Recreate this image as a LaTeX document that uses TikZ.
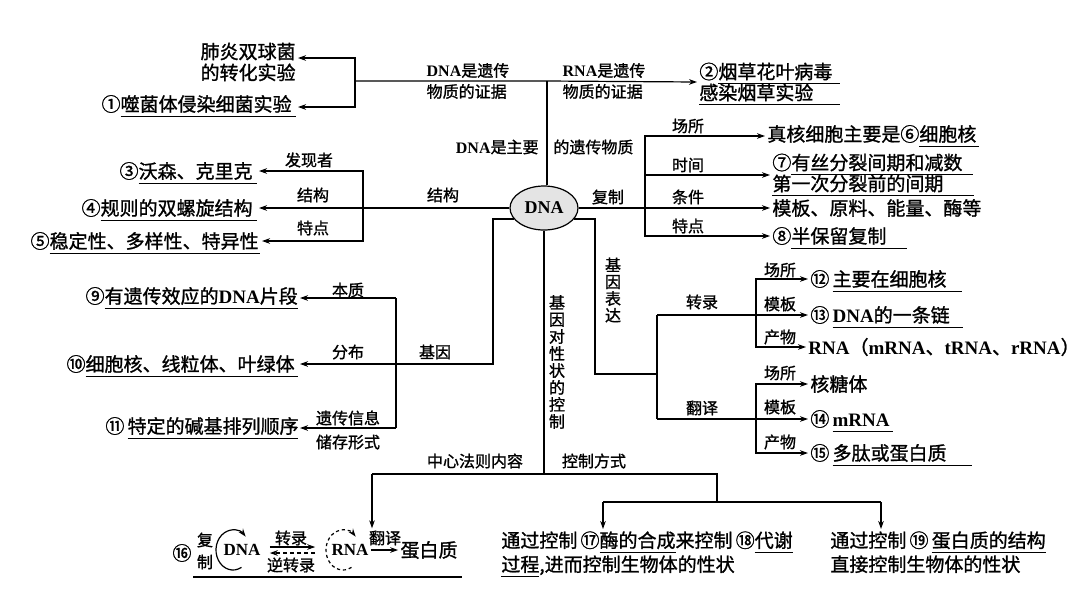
\documentclass[tikz,border=0pt]{standalone}
\usepackage{fontspec}
\usepackage{tikz}
\usetikzlibrary{shapes.geometric, arrows.meta, positioning, calc}
\setmainfont{Noto Sans CJK SC}[RawFeature={embolden=1.2}]
\newfontfamily\latfont{Liberation Serif}
\definecolor{nodegray}{RGB}{228,228,228}
\newcommand\en[1]{{\latfont\bfseries #1}}
\newcommand\mainsz{\fontsize{9.5pt}{10.5pt}\selectfont}
\newcommand\labsz{\fontsize{8pt}{10.5pt}\selectfont}
\newlength\underlw
\newcommand\fillin[2]{\rlap{\smash{\rule[-2.8pt]{#1}{0.6pt}}}\makebox[#1][l]{#2}}
\newcommand\underl[1]{\settowidth\underlw{#1}\fillin{\underlw}{#1}}

\begin{document}
\begin{tikzpicture}[
  x=0.5pt, y=-0.5pt,
  concept/.style={font=\mainsz, inner sep=1pt},
  tag/.style={font=\labsz, inner sep=1pt},
  link/.style={line width=0.6pt},
  arrow/.style={-{Stealth[length=4pt, width=2.8pt]}, line width=0.6pt}
]
  \useasboundingbox (0,0) rectangle (1080,596);

  \node[ellipse, draw, line width=0.6pt, fill=nodegray, minimum width=34pt, minimum height=22pt,
        inner sep=0pt, font=\fontsize{9}{10}\selectfont] (dna) at (544,208) {\en{DNA}};

  % evidence
  \coordinate (evL) at (355,81);
  \coordinate (evT) at (547,81);
  \node[concept, anchor=east, align=right] (griffith) at (298,62) {肺炎双球菌\\的转化实验};
  \node[concept, anchor=east] (phage) at (298,104) {①\fillin{87.5pt}{噬菌体侵染细菌实验}};
  \node[concept, anchor=west, align=left] (tmv) at (697,82) {②\fillin{61pt}{烟草花叶病毒}\\\fillin{70.5pt}{感染烟草实验}};
  \node[tag, align=left] (evDNA) at (468,81) {\en{DNA}是遗传\\物质的证据};
  \node[tag, align=left] (evRNA) at (604,81) {\en{RNA}是遗传\\物质的证据};
  \node[tag, anchor=east] (mainA) at (541,147) {\en{DNA}是主要};
  \node[tag, anchor=west] (mainB) at (551,147) {的遗传物质};

  \draw[link] (evT |- dna.north) -- (evT);
  \draw[arrow] (evL) -- (evT) -- (tmv.west);
  \draw[arrow] (evL) |- ([yshift=2pt]griffith.east);
  \draw[arrow] (evL) |- ([yshift=-1.5pt]phage.east);

  % structure
  \coordinate (stJ) at (363,208);
  \node[concept, anchor=east] (watson) at (259,171) {③\fillin{59pt}{沃森、克里克}};
  \node[concept, anchor=east] (helix) at (259,208) {④\fillin{78pt}{规则的双螺旋结构}};
  \node[concept, anchor=east] (stable) at (262,241) {⑤\fillin{105pt}{稳定性、多样性、特异性}};
  \node[tag] (stLab) at (443,195) {结构};
  \node[tag] (who) at (309,160) {发现者};
  \node[tag] (form) at (313,195) {结构};
  \node[tag] (feat) at (313,228) {特点};

  \draw[arrow] (dna.west) -- (helix.east);
  \draw[arrow] (stJ) |- (watson.east);
  \draw[arrow] (stJ) |- (stable.east);

  % replication
  \coordinate (rpJ) at (645,208);
  \node[concept, anchor=west] (site) at (765,134) {真核细胞主要是⑥\fillin{30pt}{细胞核}};
  \node[concept, anchor=west, align=left] (time) at (770,173) {⑦\fillin{91pt}{有丝分裂间期和减数}\\\fillin{101pt}{第一次分裂前的间期}};
  \node[concept, anchor=west] (cond) at (770,208) {模板、原料、能量、酶等};
  \node[concept, anchor=west] (mode) at (770,236) {⑧\fillin{58pt}{半保留复制}};
  \node[tag] (rpLab) at (608,197) {复制};
  \node[tag] (rpSite) at (688,126) {场所};
  \node[tag] (rpTime) at (688,165) {时间};
  \node[tag] (rpCond) at (688,197) {条件};
  \node[tag] (rpFeat) at (688,226) {特点};

  \draw[arrow] (dna.east) -- (cond.west);
  \draw[arrow] (rpJ) |- ([yshift=-1pt]site.west);
  \draw[arrow] (rpJ) |- ([yshift=-1pt]time.west);
  \draw[arrow] (rpJ) |- (mode.west);

  % gene
  \coordinate (gnC) at (493,364);
  \coordinate (gnT) at (396,298);
  \coordinate (gnB) at (396,428);
  \node[concept, anchor=east] (essence) at (300,296) {⑨\fillin{96.5pt}{有遗传效应的\en{DNA}片段}};
  \node[concept, anchor=east] (where) at (300,364) {⑩\fillin{106pt}{细胞核、线粒体、叶绿体}};
  \node[concept, anchor=east] (store) at (300,426) {⑪\,\fillin{85pt}{特定的碱基排列顺序}};
  \node[tag] (gnEss) at (348,290) {本质};
  \node[tag] (gnDist) at (348,352) {分布};
  \node[tag] (gnLab) at (435,352) {基因};
  \node[tag, align=center, font=\fontsize{8}{12}\selectfont] (gnInfo) at (348,430) {遗传信息\\储存形式};

  \draw[arrow] (dna.200) -| (gnC) -- (where.east);
  \draw[link] (gnT) -- (gnB);
  \draw[arrow] (gnT) -- (gnT -| essence.east);
  \draw[arrow] (gnB) -- (gnB -| store.east);

  % expression
  \coordinate (exA) at (595,374);
  \coordinate (exB) at (657,374);
  \coordinate (trJ) at (657,315);
  \coordinate (tlJ) at (657,419);
  \coordinate (trK) at (756,315);
  \coordinate (tlK) at (756,419);
  \node[tag, align=center, font=\fontsize{8}{8.4}\selectfont] (exLab) at (613,290) {基\\因\\表\\达};
  \node[concept, anchor=west] (trSite) at (808,279) {⑫\,\fillin{64.5pt}{主要在细胞核}};
  \node[concept, anchor=west] (trTmpl) at (808,315) {⑬\,\fillin{65pt}{\en{DNA}的一条链}};
  \node[concept, anchor=west] (trProd) at (806,347) {\en{RNA}（\en{mRNA}、\en{tRNA}、\en{rRNA}）};
  \node[concept, anchor=west] (tlSite) at (808,384) {核糖体};
  \node[concept, anchor=west] (tlTmpl) at (808,419) {⑭\,\fillin{30pt}{\en{mRNA}}};
  \node[concept, anchor=west] (tlProd) at (808,453) {⑮\,\fillin{69.5pt}{多肽或蛋白质}};
  \node[tag] (trLab) at (702,302) {转录};
  \node[tag] (tlLab) at (702,408) {翻译};
  \node[tag] (trS) at (780,270) {场所};
  \node[tag] (trT) at (780,304) {模板};
  \node[tag] (trP) at (780,337) {产物};
  \node[tag] (tlS) at (780,373) {场所};
  \node[tag] (tlT) at (780,407) {模板};
  \node[tag] (tlP) at (780,442) {产物};

  \draw[link] (dna.-20) -| (exA) -- (exB);
  \draw[link] (trJ) -- (tlJ);
  \draw[arrow] (trJ) -- (trTmpl.west);
  \draw[arrow] (trK) |- (trSite.west);
  \draw[arrow] (trK) |- (trProd.west);
  \draw[arrow] (tlJ) -- (tlTmpl.west);
  \draw[arrow] (tlK) |- (tlSite.west);
  \draw[arrow] (tlK) |- (tlProd.west);

  % control of traits
  \coordinate (ctJ) at (544,474);
  \coordinate (ctL) at (372,474);
  \coordinate (ctR) at (717,474);
  \coordinate (ctM) at (717,502);
  \coordinate (ctA) at (603,502);
  \coordinate (ctB) at (881,502);
  \node[tag, align=center, font=\fontsize{8}{8.5}\selectfont] (ctLab) at (557,362) {基\\因\\对\\性\\状\\的\\控\\制};
  \node[tag] (dogmaLab) at (475,461) {中心法则内容};
  \node[tag] (wayLab) at (594,461) {控制方式};
  \node[concept, anchor=north west, align=left, font=\fontsize{9.5}{12}\selectfont] (enzyme) at (499,529)
    {通过控制\,⑰\underl{酶的合成}来控制\,⑱\underl{代谢}\\\underl{过程},进而控制生物体的性状};
  \node[concept, anchor=north west, align=left, font=\fontsize{9.5}{12}\selectfont] (protein) at (828,529)
    {通过控制\,⑲\,\underl{蛋白质的结构}\\直接控制生物体的性状};

  % central dogma
  \coordinate (cdDc) at (233,550);
  \coordinate (cdRc) at (343,550);
  \node[concept] (cdNum) at (182,553) {⑯};
  \node[tag, align=center, font=\fontsize{8}{11}\selectfont] (cdRep) at (205,551) {复\\制};
  \node[inner sep=1pt, font=\fontsize{8.5}{10}\selectfont] (cdDNA) at (242,550) {\en{DNA}};
  \node[inner sep=1pt, font=\fontsize{8.5}{10}\selectfont] (cdRNA) at (350,550) {\en{RNA}};
  \node[tag] (cdTr) at (291,538) {转录};
  \node[tag] (cdRt) at (291,565) {逆转录};
  \node[tag] (cdTl) at (385,538) {翻译};
  \node[concept] (cdPro) at (429,550) {蛋白质};

  \draw[arrow] ([shift={(-60:8.5pt and 10pt)}]cdDc) arc[start angle=-60, end angle=-318, x radius=8.5pt, y radius=10pt];
  \draw[arrow, dash pattern=on 1.6pt off 1.4pt] ([shift={(-60:8.5pt and 10pt)}]cdRc) arc[start angle=-60, end angle=-318, x radius=8.5pt, y radius=10pt];
  \draw[arrow, shorten <=3.5pt, shorten >=7pt] ([yshift=1.5pt]cdDNA.east) -- ([yshift=1.5pt]cdRNA.west);
  \draw[arrow, dash pattern=on 2pt off 1.5pt, shorten <=7pt, shorten >=3.5pt] ([yshift=-1.5pt]cdRNA.west) -- ([yshift=-1.5pt]cdDNA.east);
  \draw[arrow] (cdRNA.east) -- (cdPro.west);
  \draw[link] (193,577) -- (462,577);

  \draw[link] (dna.south) -- (ctJ);
  \draw[link] (ctL) -- (ctR) -- (ctM);
  \draw[link] (ctA) -- (ctB);
  \draw[arrow] (ctL) -- (ctL |- cdTl.north);
  \draw[arrow] (ctA) -- (ctA |- enzyme.north);
  \draw[arrow] (ctB) -- (ctB |- protein.north);
\end{tikzpicture}
\end{document}
